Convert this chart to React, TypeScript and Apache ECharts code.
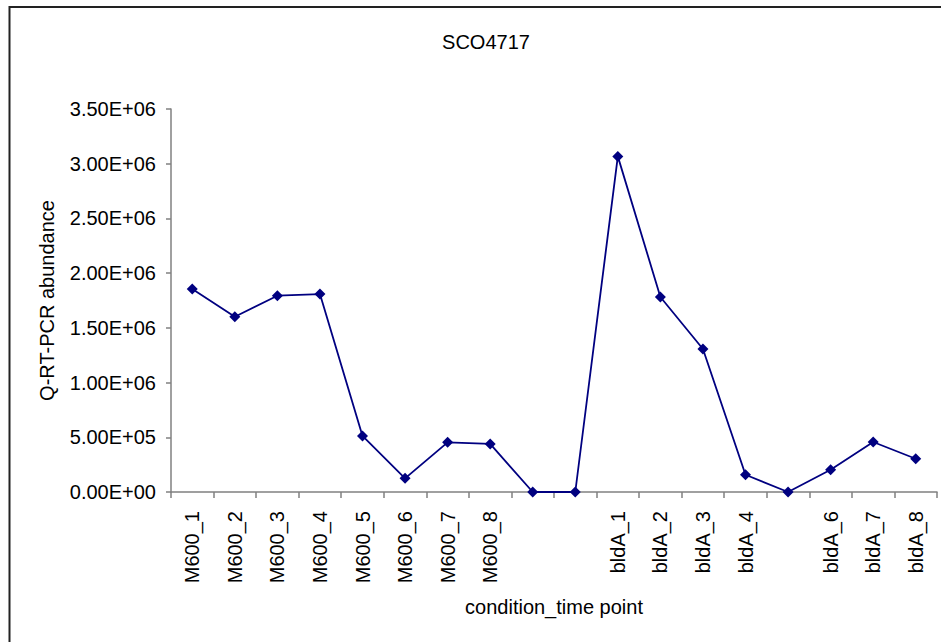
import React, { useEffect, useRef } from "react";
import * as echarts from "echarts";

const categories = [
  "M600_1", "M600_2", "M600_3", "M600_4", "M600_5", "M600_6", "M600_7", "M600_8",
  "", " ",
  "bldA_1", "bldA_2", "bldA_3", "bldA_4",
  "  ",
  "bldA_6", "bldA_7", "bldA_8",
];
const values = [
  1855000, 1602000, 1794000, 1809000, 512000, 125000, 454000, 439000,
  0, 0,
  3067000, 1782000, 1307000, 158000,
  0,
  204000, 457000, 304000,
];
const title = "SCO4717";
const xName = "condition_time point";
const yName = "Q-RT-PCR abundance";
const yMin = 0;
const yMax = 3500000;
const yStep = 500000;

function sci(v: number): string {
  if (v === 0) return "0.00E+00";
  const e = Math.floor(Math.log10(Math.abs(v)) + 1e-9);
  const m = v / Math.pow(10, e);
  const sign = e < 0 ? "-" : "+";
  const ea = Math.abs(e);
  return m.toFixed(2) + "E" + sign + (ea < 10 ? "0" + ea : String(ea));
}

const FONT = "Liberation Sans, Arial, sans-serif";

export default function App() {
  const ref = useRef<HTMLDivElement>(null);
  useEffect(() => {
    if (!ref.current) return;
    const chart = echarts.init(ref.current, null, { renderer: "svg" });
    chart.setOption({
      animation: false,
      backgroundColor: "#ffffff",
      textStyle: { fontFamily: FONT },
      title: {
        text: title,
        left: 481,
        top: 27,
        textAlign: "center",
        textStyle: { fontFamily: FONT, fontSize: 20, fontWeight: "normal", color: "#000" },
      },
      graphic: [
        {
          type: "rect",
          shape: { x: 9.5, y: 7, width: 2000, height: 2000 },
          style: { fill: "none", stroke: "#222", lineWidth: 2 },
          silent: true,
        },
      ],
      grid: { left: 171, right: 4, top: 109, bottom: 150, containLabel: false },
      xAxis: {
        type: "category",
        data: categories,
        boundaryGap: true,
        name: xName,
        nameLocation: "middle",
        nameGap: 105,
        nameTextStyle: { fontFamily: FONT, fontSize: 20, color: "#000" },
        axisLine: { lineStyle: { color: "#808080", width: 1.5 } },
        axisTick: { show: true, alignWithLabel: false, length: 6, lineStyle: { color: "#808080", width: 1.5 } },
        axisLabel: {
          interval: 0,
          rotate: 90,
          margin: 19,
          fontFamily: FONT,
          fontSize: 20,
          color: "#000",
        },
        splitLine: { show: false },
      },
      yAxis: {
        type: "value",
        min: yMin,
        max: yMax,
        interval: yStep,
        name: yName,
        nameLocation: "middle",
        nameGap: 114,
        nameRotate: 90,
        nameTextStyle: { fontFamily: FONT, fontSize: 20, color: "#000" },
        axisLine: { show: true, lineStyle: { color: "#808080", width: 1.5 } },
        axisTick: { show: true, length: 5, lineStyle: { color: "#808080", width: 1.5 } },
        axisLabel: {
          formatter: (v: number) => sci(v),
          margin: 15,
          fontFamily: FONT,
          fontSize: 20,
          color: "#000",
        },
        splitLine: { show: false },
      },
      series: [
        {
          type: "line",
          data: values,
          symbol: "diamond",
          symbolSize: 11,
          lineStyle: { color: "#000080", width: 1.8 },
          itemStyle: { color: "#000080" },
        },
      ],
    });
    return () => chart.dispose();
  }, []);
  return (
    <div
      ref={ref}
      style={{ position: "fixed", left: 0, top: 0, width: 941, height: 642 }}
    />
  );
}
